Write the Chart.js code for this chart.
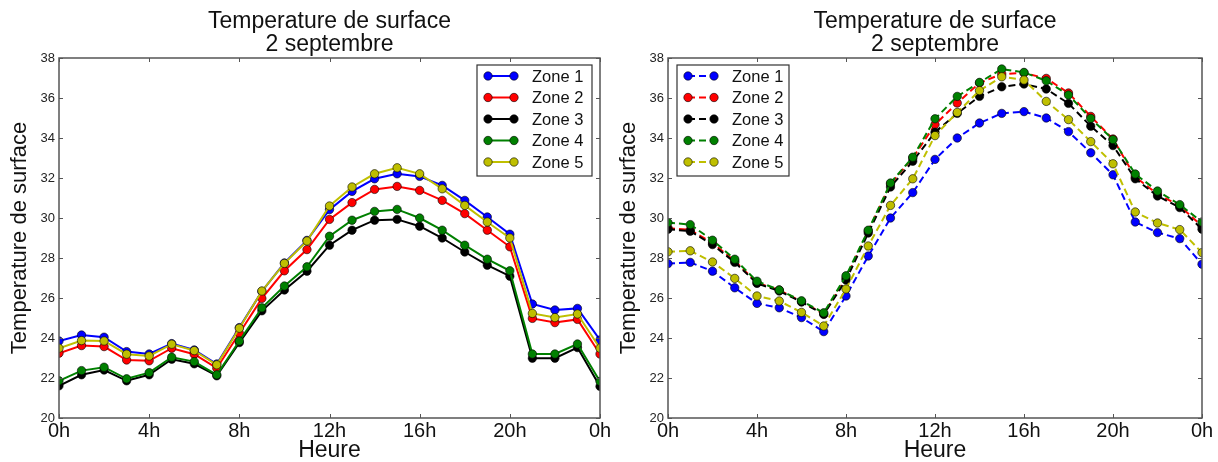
<!DOCTYPE html>
<html>
<head>
<meta charset="utf-8">
<script src="https://cdn.jsdelivr.net/npm/chart.js@4.4.1/dist/chart.umd.min.js"></script>
<style>
  html, body { margin: 0; padding: 0; background: #fff; }
  body { width: 1218px; height: 462px; position: relative; overflow: hidden; }
  #left { position: absolute; left: 0; top: 0; }
  #right { position: absolute; left: 609px; top: 0; }
</style>
</head>
<body>
<canvas id="left" width="620" height="462"></canvas>
<canvas id="right" width="609" height="462"></canvas>
<script>
// hourly readings, 0h .. 24h
const hours = [0, 1, 2, 3, 4, 5, 6, 7, 8, 9, 10, 11, 12, 13, 14, 15, 16, 17, 18, 19, 20, 21, 22, 23, 24];
const xTickLabels = ["0h", "4h", "8h", "12h", "16h", "20h", "0h"];
const zoneNames = ["Zone 1", "Zone 2", "Zone 3", "Zone 4", "Zone 5"];
const zoneColors = ["#0000ff", "#ff0000", "#000000", "#008000", "#bfbf00"];
const titleLines = ["Temperature de surface", "2 septembre"];

// left chart (solid lines)
const leftZone1 = [23.85, 24.15, 24.04, 23.32, 23.2, 23.72, 23.4, 22.7, 24.52, 26.33, 27.75, 28.88, 30.42, 31.33, 31.96, 32.21, 32.08, 31.63, 30.88, 30.05, 29.19, 25.7, 25.4, 25.48, 23.9];
const leftZone2 = [23.24, 23.62, 23.57, 22.9, 22.86, 23.49, 23.19, 22.49, 24.24, 25.98, 27.36, 28.42, 29.93, 30.77, 31.43, 31.58, 31.38, 30.88, 30.22, 29.39, 28.56, 24.98, 24.77, 24.93, 23.2];
const leftZone3 = [21.61, 22.16, 22.4, 21.86, 22.16, 22.94, 22.71, 22.11, 23.77, 25.36, 26.4, 27.34, 28.64, 29.39, 29.89, 29.93, 29.59, 29.0, 28.3, 27.64, 27.09, 22.99, 22.99, 23.52, 21.58];
const leftZone4 = [21.86, 22.37, 22.54, 21.96, 22.27, 23.04, 22.82, 22.16, 23.85, 25.51, 26.6, 27.56, 29.09, 29.89, 30.33, 30.43, 30.0, 29.39, 28.64, 27.94, 27.36, 23.2, 23.2, 23.7, 21.83];
const leftZone5 = [23.49, 23.87, 23.85, 23.19, 23.1, 23.69, 23.37, 22.66, 24.49, 26.35, 27.73, 28.85, 30.6, 31.55, 32.21, 32.51, 32.21, 31.46, 30.63, 29.8, 29.0, 25.23, 25.02, 25.2, 23.49];

// right chart (dashed lines)
const rightZone1 = [27.72, 27.78, 27.34, 26.51, 25.73, 25.51, 25.02, 24.32, 26.1, 28.1, 30.0, 31.27, 32.93, 34.0, 34.75, 35.23, 35.32, 35.0, 34.32, 33.26, 32.16, 29.8, 29.27, 28.97, 27.69];
const rightZone2 = [29.5, 29.4, 28.75, 27.85, 26.76, 26.4, 25.82, 25.2, 27.0, 29.35, 31.7, 33.0, 34.67, 35.75, 36.75, 37.2, 37.25, 36.98, 36.25, 35.08, 33.95, 32.05, 31.2, 30.6, 29.6];
const rightZone3 = [29.44, 29.34, 28.67, 27.78, 26.73, 26.35, 25.8, 25.18, 26.9, 29.25, 31.55, 32.84, 34.29, 35.23, 36.08, 36.56, 36.7, 36.45, 35.73, 34.59, 33.62, 31.96, 31.1, 30.52, 29.44];
const rightZone4 = [29.77, 29.67, 28.89, 27.94, 26.84, 26.4, 25.86, 25.26, 27.11, 29.39, 31.75, 33.04, 34.96, 36.08, 36.78, 37.45, 37.28, 36.86, 36.15, 34.98, 33.92, 32.2, 31.35, 30.67, 29.8];
const rightZone5 = [28.31, 28.36, 27.8, 26.98, 26.1, 25.85, 25.28, 24.6, 26.45, 28.6, 30.63, 31.96, 34.12, 35.28, 36.37, 37.06, 36.9, 35.83, 34.92, 33.82, 32.71, 30.3, 29.75, 29.42, 28.27];

Chart.defaults.font.family = "'Liberation Sans', Arial, sans-serif";
Chart.defaults.color = "#111";

// matplotlib-like frame: box round the plot and inward ticks on all sides
const framePlugin = {
  id: "frame",
  afterDatasetsDraw(chart) {
    const ctx = chart.ctx;
    const a = chart.chartArea;
    const xs = chart.scales.x, ys = chart.scales.y;
    const len = 4;
    ctx.save();
    ctx.strokeStyle = "#555";
    ctx.lineWidth = 1;
    ctx.beginPath();
    xs.ticks.forEach(t => {
      const px = Math.round(xs.getPixelForValue(t.value)) + 0.5;
      ctx.moveTo(px, a.bottom); ctx.lineTo(px, a.bottom - len);
      ctx.moveTo(px, a.top); ctx.lineTo(px, a.top + len);
    });
    ys.ticks.forEach(t => {
      const py = Math.round(ys.getPixelForValue(t.value)) + 0.5;
      ctx.moveTo(a.left, py); ctx.lineTo(a.left + len, py);
      ctx.moveTo(a.right, py); ctx.lineTo(a.right - len, py);
    });
    ctx.stroke();
    ctx.lineWidth = 1.5;
    ctx.strokeRect(a.left, a.top, a.right - a.left, a.bottom - a.top);
    ctx.restore();
  }
};

// legend box drawn inside the plot area
const insideLegend = {
  id: "insideLegend",
  afterDraw(chart, args, opts) {
    const ctx = chart.ctx;
    const a = chart.chartArea;
    const x0 = opts.side === "right" ? a.right - opts.inset - opts.width : a.left + opts.inset;
    const y0 = a.top + 7;
    const h = 111;
    ctx.save();
    ctx.fillStyle = "#fff";
    ctx.fillRect(x0, y0, opts.width, h);
    ctx.strokeStyle = "#333";
    ctx.lineWidth = 1.2;
    ctx.strokeRect(x0, y0, opts.width, h);
    chart.data.datasets.forEach((ds, i) => {
      const cy = y0 + 11 + i * 21.5;
      const xa = x0 + 11, xb = x0 + 37;
      ctx.strokeStyle = ds.borderColor;
      ctx.lineWidth = ds.borderWidth;
      ctx.setLineDash(ds.borderDash || []);
      ctx.beginPath();
      ctx.moveTo(xa, cy); ctx.lineTo(xb, cy);
      ctx.stroke();
      ctx.setLineDash([]);
      [xa, xb].forEach(px => {
        ctx.beginPath();
        ctx.arc(px, cy, ds.pointRadius, 0, Math.PI * 2);
        ctx.fillStyle = ds.pointBackgroundColor;
        ctx.fill();
        ctx.lineWidth = ds.pointBorderWidth;
        ctx.strokeStyle = ds.pointBorderColor;
        ctx.stroke();
      });
      ctx.fillStyle = "#111";
      ctx.font = "16.5px 'Liberation Sans', Arial, sans-serif";
      ctx.textBaseline = "middle";
      ctx.textAlign = "left";
      ctx.fillText(ds.label, x0 + 55, cy + 1);
    });
    ctx.restore();
  }
};

function makeDatasets(series, dashed) {
  return series.map((vals, i) => ({
    label: zoneNames[i],
    data: hours.map((hr, k) => ({ x: hr, y: vals[k] })),
    borderColor: zoneColors[i],
    backgroundColor: zoneColors[i],
    pointBackgroundColor: zoneColors[i],
    pointBorderColor: "#000",
    pointBorderWidth: 0.6,
    pointRadius: 4.2,
    borderWidth: 2,
    borderDash: dashed ? [7, 4] : [],
    tension: 0,
    clip: 0,
    order: series.length - 1 - i
  }));
}

function makeOptions(padRight, legendOpts) {
  return {
    responsive: false,
    animation: false,
    devicePixelRatio: 1,
    layout: { padding: { left: 0, right: padRight, top: 0, bottom: 0 } },
    plugins: {
      legend: { display: false },
      tooltip: { enabled: false },
      title: {
        display: true,
        text: titleLines,
        fullSize: false,
        color: "#111",
        font: { size: 23, weight: "normal", lineHeight: 1.0 },
        padding: { top: 10.5, bottom: 1.5 }
      },
      insideLegend: legendOpts
    },
    scales: {
      x: {
        type: "linear",
        min: 0,
        max: 24,
        grid: { display: false, drawTicks: false },
        border: { display: false },
        ticks: {
          stepSize: 4,
          autoSkip: false,
          maxRotation: 0,
          padding: 1,
          color: "#111",
          font: { size: 20 },
          callback: v => xTickLabels[v / 4]
        },
        title: { display: true, text: "Heure", color: "#111", font: { size: 23, lineHeight: 1 }, padding: { top: 0, bottom: 0 } },
        afterFit: s => { s.height = 44; }
      },
      y: {
        min: 20,
        max: 38,
        grid: { display: false, drawTicks: false },
        border: { display: false },
        ticks: { stepSize: 2, padding: 4, color: "#222", font: { size: 13 } },
        title: { display: true, text: "Temperature de surface", color: "#111", font: { size: 22, lineHeight: 1.2 }, padding: { top: 7, bottom: 0 } },
        afterFit: s => { s.width = 59; }
      }
    }
  };
}

new Chart(document.getElementById("left"), {
  type: "line",
  data: { datasets: makeDatasets([leftZone1, leftZone2, leftZone3, leftZone4, leftZone5], false) },
  options: makeOptions(20, { side: "right", inset: 8, width: 115 }),
  plugins: [framePlugin, insideLegend]
});

new Chart(document.getElementById("right"), {
  type: "line",
  data: { datasets: makeDatasets([rightZone1, rightZone2, rightZone3, rightZone4, rightZone5], true) },
  options: makeOptions(16, { side: "left", inset: 9, width: 112 }),
  plugins: [framePlugin, insideLegend]
});
</script>
</body>
</html>
